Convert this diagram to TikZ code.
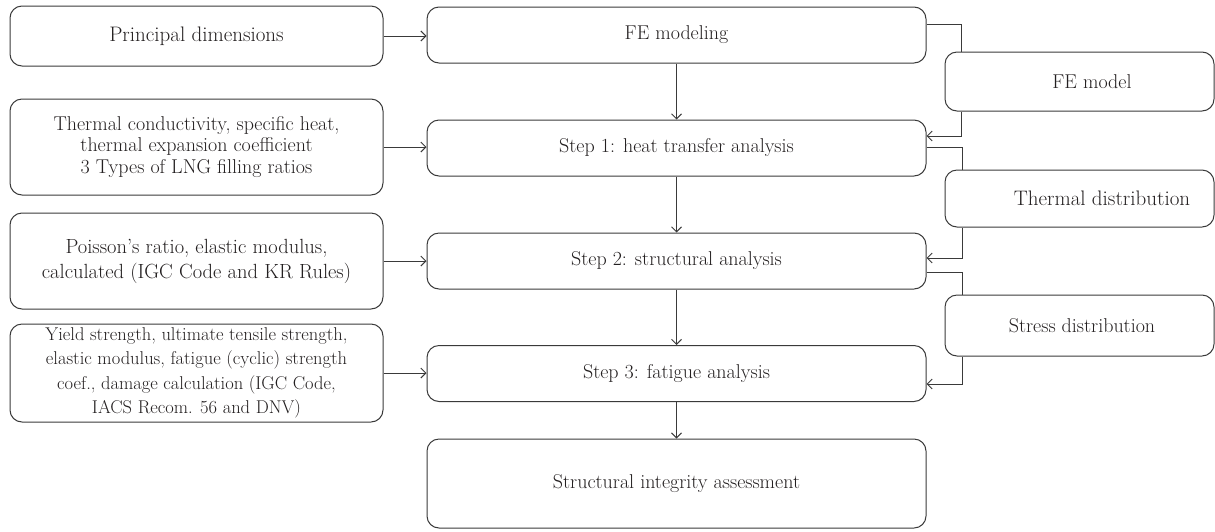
\documentclass[tikz,border=0pt]{standalone}
\usetikzlibrary{arrows.meta}
\definecolor{ln}{HTML}{3A3A3A}
\definecolor{tx}{HTML}{231F20}
\tikzset{
  box/.style={draw=ln, line width=1pt, rounded corners=12pt, inner sep=0pt,
    align=center, text=tx, font=\fontsize{20}{23}\selectfont},
  lbox/.style={box, minimum width=373pt},
  cbox/.style={box, minimum width=499pt, minimum height=56pt},
  rbox/.style={box, minimum width=269pt},
  conn/.style={draw=ln, line width=1pt},
  arr/.style={conn, -{Straight Barb[length=5pt,width=10pt,line width=1pt]}}
}
\begin{document}
\begin{tikzpicture}[x=1pt,y=-1pt]
\useasboundingbox (0,0) rectangle (1215,531);
% left boxes
\node[lbox, minimum height=60pt, font=\fontsize{21}{23}\selectfont] (L1) at (196.5,36) {Principal dimensions};
\node[lbox, minimum height=96pt, font=\fontsize{20}{21.5}\selectfont] (L2) at (196.5,147)
  {Thermal conductivity, specific heat,\\thermal expansion coefficient\\3 Types of LNG filling ratios};
\node[lbox, minimum height=96pt, font=\fontsize{20.5}{25}\selectfont] (L3) at (196.5,261)
  {Poisson's ratio, elastic modulus,\\calculated (IGC Code and KR Rules)};
\node[lbox, minimum height=98pt, font=\fontsize{18.5}{24.5}\selectfont] (L4) at (196.5,373)
  {Yield strength, ultimate tensile strength,\\elastic modulus, fatigue (cyclic) strength\\coef., damage calculation (IGC Code,\\IACS Recom. 56 and DNV)};
% centre boxes
\node[cbox] (C0) at (676.5,35) {FE modeling};
\node[cbox] (C1) at (676.5,148) {Step 1: heat transfer analysis};
\node[cbox] (C2) at (676.5,261) {Step 2: structural analysis};
\node[cbox] (C3) at (676.5,373.5) {Step 3: fatigue analysis};
\node[cbox, minimum height=89pt] (C4) at (676.5,483.5) {Structural integrity assessment};
% right boxes
\node[rbox, minimum height=59pt] (R1) at (1079.5,81.5) {\hspace*{25pt}FE model};
\node[rbox, minimum height=57pt, font=\fontsize{21}{23}\selectfont] (R2) at (1079.5,198.5) {\hspace*{45pt}Thermal distribution};
\node[rbox, minimum height=61pt] (R3) at (1079.5,325.5) {\hspace*{5pt}Stress distribution};
% left to centre
\draw[arr] (L1.east) -- (L1.east -| C0.west);
\draw[arr] (L2.east) -- (L2.east -| C1.west);
\draw[arr] (L3.east) -- (L3.east -| C2.west);
\draw[arr] (L4.east) -- (L4.east -| C3.west);
% centre chain
\draw[arr] (C0.south) -- (C1.north);
\draw[arr] (C1.south) -- (C2.north);
\draw[arr] (C2.south) -- (C3.north);
\draw[arr] (C3.south) -- (C4.north);
% right side loops
\coordinate (j0) at (961,24);
\coordinate (k0) at (961,136);
\coordinate (j1) at (962,147);
\coordinate (k1) at (962,258);
\coordinate (j2) at (962,272);
\coordinate (k2) at (962,384);
\draw[conn] (C0.east |- j0) -| (j0 |- R1.north);
\draw[arr] (k0 |- R1.south) |- (C1.east |- k0);
\draw[conn] (C1.east |- j1) -| (j1 |- R2.north);
\draw[arr] (k1 |- R2.south) |- (C2.east |- k1);
\draw[conn] (C2.east |- j2) -| (j2 |- R3.north);
\draw[arr] (k2 |- R3.south) |- (C3.east |- k2);
\end{tikzpicture}
\end{document}
